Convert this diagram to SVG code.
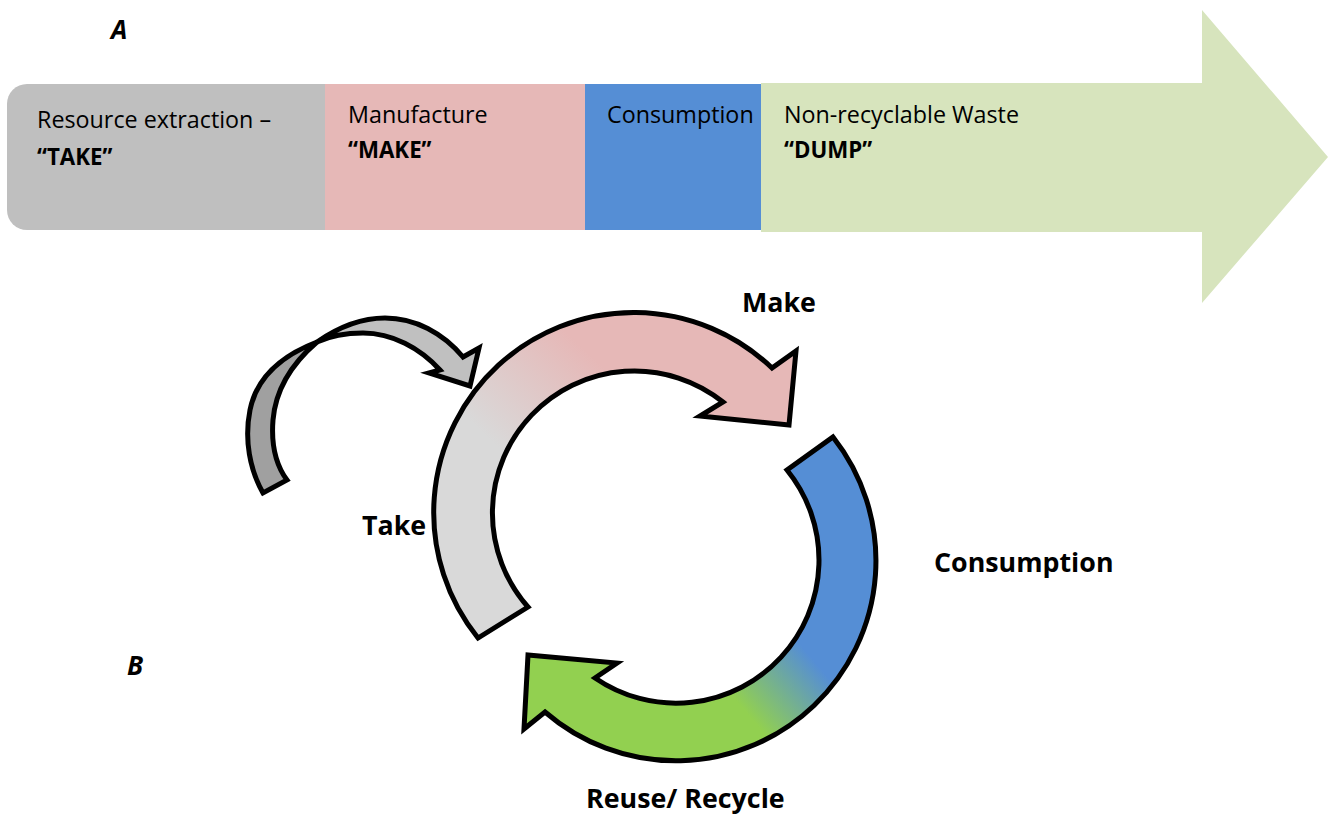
<svg xmlns="http://www.w3.org/2000/svg" width="1332" height="816" viewBox="0 0 1332 816">
  <style>
    .t { font-family: "Open Sans", "Liberation Sans", sans-serif; font-size: 23.3px; fill: #000; }
    .tb { font-family: "Open Sans", "Liberation Sans", sans-serif; font-size: 22.3px; font-weight: bold; fill: #000; }
    .lbl { font-family: "Open Sans", "Liberation Sans", sans-serif; font-size: 26.8px; font-weight: bold; fill: #000; }
    .letter { font-family: "Open Sans", "Liberation Sans", sans-serif; font-size: 26px; font-weight: bold; font-style: italic; fill: #000; }
    .ring { stroke: #000; stroke-width: 5; stroke-linejoin: miter; }
  </style>
  <defs>
    <linearGradient id="gMake" gradientUnits="userSpaceOnUse" x1="490" y1="440" x2="580" y2="345">
      <stop offset="0" stop-color="#D9D9D9"/>
      <stop offset="1" stop-color="#E6B8B7"/>
    </linearGradient>
    <linearGradient id="gCons" gradientUnits="userSpaceOnUse" x1="740" y1="705" x2="805" y2="650">
      <stop offset="0" stop-color="#92D050"/>
      <stop offset="1" stop-color="#558ED5"/>
    </linearGradient>
  </defs>
  <rect width="1332" height="816" fill="#FFFFFF"/>

  <text class="letter" x="111" y="39">A</text>
  <text class="letter" x="127" y="675">B</text>

  <g id="linear-economy">
    <g id="take-segment">
      <path d="M27 84 H325 V230 H27 A20 20 0 0 1 7 210 V104 A20 20 0 0 1 27 84 Z" fill="#BFBFBF"/>
      <text class="t" x="37" y="128">Resource extraction –</text>
      <text class="tb" x="37" y="165">“TAKE”</text>
    </g>
    <g id="make-segment">
      <rect x="325" y="84" width="260" height="146" fill="#E6B8B7"/>
      <text class="t" x="348" y="123">Manufacture</text>
      <text class="tb" x="348" y="158">“MAKE”</text>
    </g>
    <g id="consumption-segment">
      <rect x="585" y="84" width="176" height="146" fill="#558ED5"/>
      <text class="t" x="607" y="123">Consumption</text>
    </g>
    <g id="dump-segment">
      <path d="M761 83 H1202 V10 L1328 157 L1202 303 V232 H761 Z" fill="#D7E4BD"/>
      <text class="t" x="784" y="123">Non-recyclable Waste</text>
      <text class="tb" x="784" y="158">“DUMP”</text>
    </g>
  </g>

  <g id="connectors">
    <g id="take-input-arrow">
      <path class="ring" fill="#A0A0A0" d="M263 493 C250 470 244 440 250 410 C256 380 278 357 317 342 C296 360 276 385 273 420 C271 445 276 465 287 480 Z"/>
      <path class="ring" fill="#C0C0C0" d="M317 342 C340 326 362 318 385 318 C415 318 443 333 463 357 L479 348 L470 386 L429 373 L440 370 C420 348 392 333 363 333 C345 333 330 336 317 342 Z"/>
    </g>
  </g>

  <g id="take-make-arrow">
    <path class="ring" fill="url(#gMake)" d="M478 638 A200 200 0 0 1 772 368 L796 351 L789 425 L700 416 L723 402 A142 142 0 0 0 528 607 Z"/>
  </g>
  <g id="consumption-recycle-arrow">
    <path class="ring" fill="url(#gCons)" d="M833 437 A200 200 0 0 1 545 712 L524 729 L528 655 L617 663 L595 678 A143 143 0 0 0 787 470 Z"/>
  </g>

  <g id="label-make"><text class="lbl" x="742" y="312">Make</text></g>
  <g id="label-take"><text class="lbl" x="362" y="535">Take</text></g>
  <g id="label-consumption"><text class="lbl" x="934" y="572">Consumption</text></g>
  <g id="label-recycle"><text class="lbl" x="586" y="808">Reuse/ Recycle</text></g>
</svg>
